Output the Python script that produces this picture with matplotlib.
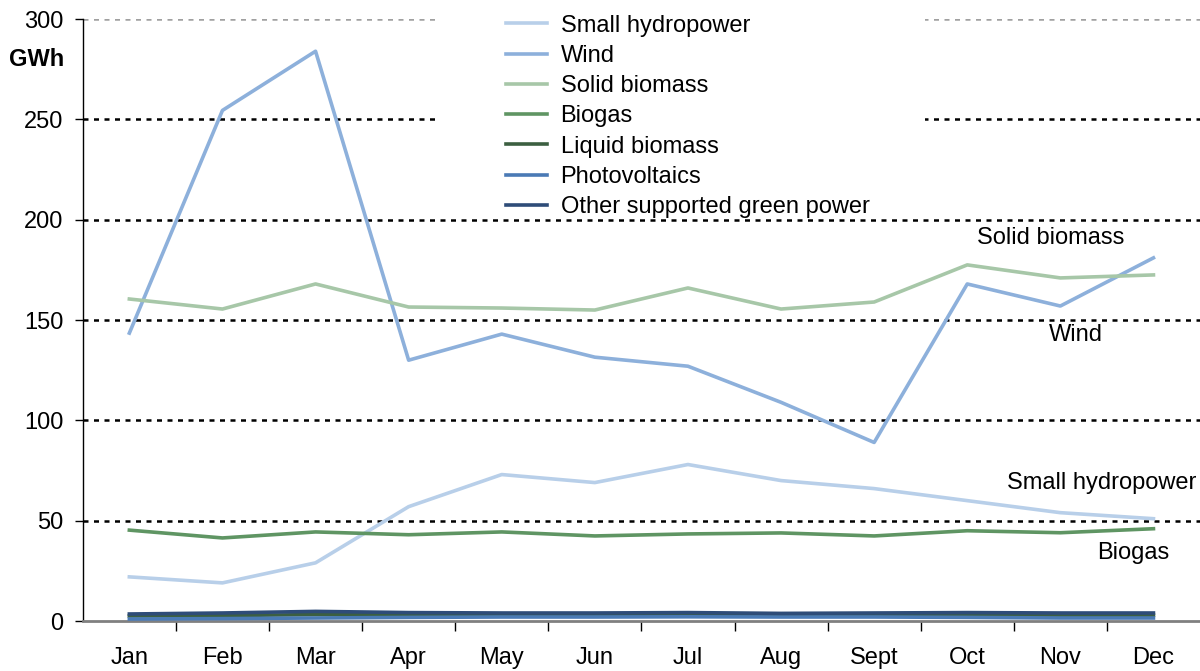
import numpy as np
import matplotlib.pyplot as plt
from matplotlib.patches import Rectangle

plt.rcParams["font.family"] = ["Liberation Sans", "DejaVu Sans"]

months = ["Jan", "Feb", "Mar", "Apr", "May", "Jun", "Jul", "Aug", "Sept", "Oct", "Nov", "Dec"]

small_hydro = [22, 19, 29, 57, 73, 69, 78, 70, 66, 60, 54, 51]
wind = [143.5, 254.5, 284, 130, 143, 131.5, 127, 109, 89, 168, 157, 181]
solid_biomass = [160.5, 155.5, 168, 156.5, 156, 155, 166, 155.5, 159, 177.5, 171, 172.5]
biogas = [45.3, 41.4, 44.4, 43, 44.4, 42.4, 43.4, 43.9, 42.4, 45, 44, 46]
liquid_biomass = [2.5, 2.7, 3.2, 3.0, 3.0, 2.9, 3.0, 2.8, 2.8, 3.0, 2.9, 2.9]
photovoltaics = [1.0, 1.2, 1.5, 1.8, 2.0, 2.0, 2.1, 2.0, 2.0, 1.8, 1.5, 1.5]
other_green = [3.5, 4.0, 4.8, 4.2, 4.0, 4.0, 4.2, 3.8, 4.0, 4.2, 4.0, 4.0]

series = [
    ("Small hydropower", small_hydro, "#b8cfe9"),
    ("Wind", wind, "#8db0db"),
    ("Solid biomass", solid_biomass, "#a7c7a8"),
    ("Biogas", biogas, "#5f9563"),
    ("Liquid biomass", liquid_biomass, "#3c5f41"),
    ("Photovoltaics", photovoltaics, "#4a7ab5"),
    ("Other supported green power", other_green, "#2e4c78"),
]

FS = 17

fig = plt.figure(figsize=(12, 6.71), dpi=100)
ax = fig.add_axes([0.069, 0.0745, 0.931, 0.897])

x = np.arange(len(months))
for name, vals, col in series:
    ax.plot(x, vals, color=col, lw=2.6, label=name, zorder=3)

ax.set_xlim(-0.5, 11.5)
ax.set_ylim(0, 300)
ax.set_yticks(np.arange(0, 301, 50))
ax.set_xticks(x)
ax.set_xticklabels(months)
ax.set_xticks(np.arange(0.5, 11, 1), minor=True)
ax.tick_params(axis="x", which="major", length=0, pad=19, labelsize=FS)
ax.tick_params(axis="x", which="minor", length=7, width=1, direction="out", color="black")
ax.tick_params(axis="y", length=6, width=1, direction="out", labelsize=FS, pad=8)

for s in ["top", "right"]:
    ax.spines[s].set_visible(False)
ax.spines["bottom"].set_color("#808080")
ax.spines["bottom"].set_linewidth(2)
ax.spines["left"].set_color("black")
ax.spines["left"].set_linewidth(1)

# dotted gridlines
for yv in range(50, 301, 50):
    c = "#a0a0a0" if yv == 300 else "black"
    ax.axhline(yv, color=c, lw=1.8, linestyle=(0, (2, 2.2)), zorder=1)

# white area behind the legend
ax.add_patch(Rectangle((440 / 1200, 1 - 214 / 671), 485 / 1200, 214 / 671,
                       transform=fig.transFigure, facecolor="white",
                       edgecolor="none", zorder=2, clip_on=False))

leg = ax.legend(loc="upper left", bbox_to_anchor=(0.368, 1.027), frameon=False,
                fontsize=FS, handlelength=1.75, handletextpad=0.57,
                labelspacing=0.35, borderpad=0)
leg.set_zorder(5)

fig.text(37 / 1200, 1 - 59 / 671, "GWh", fontsize=FS, fontweight="bold",
         ha="center", va="center")

ax.text(9.9, 191, "Solid biomass", fontsize=FS, ha="center", va="center")
ax.text(10.17, 142.5, "Wind", fontsize=FS, ha="center", va="center")
ax.text(10.44, 69, "Small hydropower", fontsize=FS, ha="center", va="center")
ax.text(10.78, 34, "Biogas", fontsize=FS, ha="center", va="center")

fig.savefig("out.png", dpi=100)
